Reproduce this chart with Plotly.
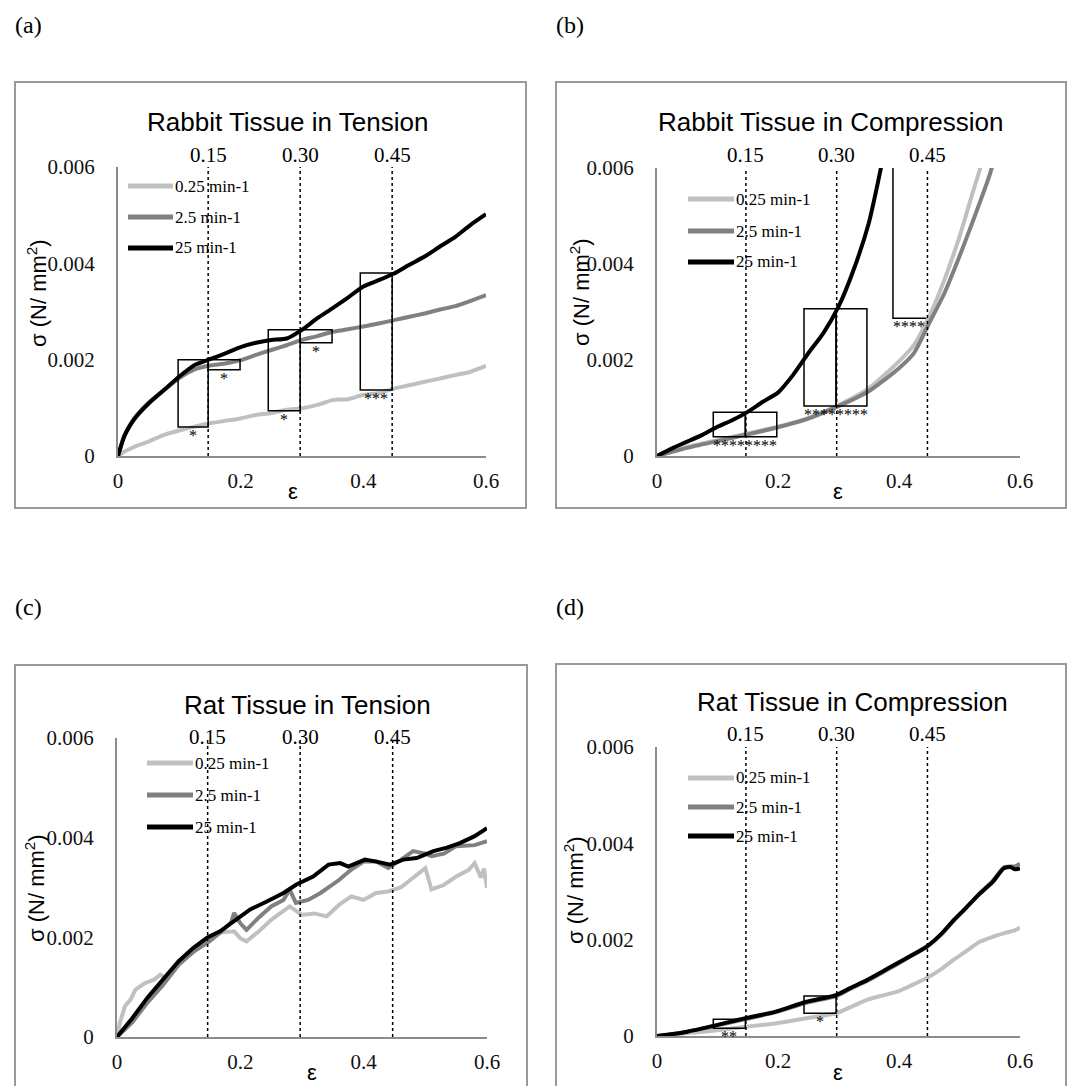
import plotly.graph_objects as go

W, H = 1067, 1086

# ---------------- data ----------------
series_names = ["0.25 min-1", "2.5 min-1", "25 min-1"]
x_ticks = [0, 0.2, 0.4, 0.6]
x_tick_text = ["0", "0.2", "0.4", "0.6"]
y_ticks = [0, 0.002, 0.004, 0.006]
y_tick_text = ["0", "0.002", "0.004", "0.006"]
strain_marks = [0.147, 0.297, 0.447]
strain_mark_text = ["0.15", "0.30", "0.45"]
panel_titles = ["Rabbit Tissue in Tension", "Rabbit Tissue in Compression",
                "Rat Tissue in Tension", "Rat Tissue in Compression"]
panel_letters = ["(a)", "(b)", "(c)", "(d)"]

# (a) Rabbit tension
a_x = [0, 0.01, 0.02, 0.03, 0.05, 0.075, 0.1, 0.125, 0.15, 0.175, 0.2, 0.225, 0.25, 0.275,
       0.3, 0.325, 0.35, 0.375, 0.4, 0.425, 0.45, 0.475, 0.5, 0.525, 0.55, 0.575, 0.6]
a_slow = [0, 0.00009, 0.00015, 0.00021, 0.0003, 0.00044, 0.00053, 0.00061, 0.00068, 0.00073,
          0.00078, 0.00085, 0.00089, 0.00096, 0.00099, 0.00106, 0.00116, 0.00118, 0.00127,
          0.00131, 0.0014, 0.00147, 0.00154, 0.00161, 0.00168, 0.00175, 0.00187]
a_mid = [0, 0.00042, 0.00066, 0.00084, 0.00111, 0.00137, 0.00162, 0.0018, 0.00188, 0.00192,
         0.00199, 0.0021, 0.0022, 0.0023, 0.00241, 0.00249, 0.00258, 0.00263, 0.00269,
         0.00275, 0.00282, 0.00289, 0.00296, 0.00304, 0.00311, 0.00322, 0.00334]
a_fast = [0, 0.0004, 0.00064, 0.00082, 0.00109, 0.00137, 0.00165, 0.00189, 0.00201, 0.00213,
          0.00226, 0.00235, 0.00241, 0.00244, 0.00262, 0.00286, 0.00307, 0.00329, 0.00352,
          0.00365, 0.00379, 0.00397, 0.00414, 0.00435, 0.00455, 0.0048, 0.00502]
a_boxes = [(0.098, 0.147, 0.0006, 0.002, "*"), (0.147, 0.199, 0.00179, 0.002, "*"),
           (0.245, 0.297, 0.00094, 0.00262, "*"), (0.297, 0.349, 0.00235, 0.00262, "*"),
           (0.395, 0.447, 0.00137, 0.0038, "***")]

# (b) Rabbit compression
b_x_slow = [0, 0.05, 0.1, 0.15, 0.2, 0.25, 0.3, 0.35, 0.4, 0.425, 0.45, 0.475, 0.5, 0.52, 0.535, 0.55]
b_slow = [0, 0.00019, 0.00033, 0.00047, 0.00061, 0.00079, 0.00106, 0.00141, 0.00197, 0.00232,
          0.00291, 0.00367, 0.00457, 0.00541, 0.00603, 0.0068]
b_x_mid = [0, 0.05, 0.1, 0.15, 0.2, 0.25, 0.3, 0.35, 0.4, 0.425, 0.45, 0.475, 0.5, 0.525, 0.55, 0.57]
b_mid = [0, 0.00017, 0.00031, 0.00045, 0.0006, 0.00078, 0.00104, 0.00135, 0.00183, 0.00215,
         0.00277, 0.00339, 0.00416, 0.00499, 0.00586, 0.0068]
b_x_fast = [0, 0.025, 0.05, 0.075, 0.1, 0.125, 0.15, 0.175, 0.2, 0.225, 0.25, 0.275, 0.3,
            0.325, 0.35, 0.365, 0.38]
b_fast = [0, 0.00016, 0.0003, 0.00044, 0.00061, 0.00075, 0.00092, 0.00113, 0.00132, 0.00169,
          0.00214, 0.00256, 0.00311, 0.00388, 0.00485, 0.00569, 0.0066]
b_boxes = [(0.093, 0.146, 0.0004, 0.00091, "****"), (0.146, 0.198, 0.0004, 0.00091, "****"),
           (0.243, 0.296, 0.00104, 0.00307, "****"), (0.296, 0.347, 0.00104, 0.00307, "****")]
b_open_box = (0.39, 0.4446, 0.00287, 0.006, "****")

# (c) Rat tension
c_x_slow = [0, 0.005, 0.013, 0.022, 0.03, 0.045, 0.06, 0.07, 0.08, 0.09, 0.1, 0.125, 0.15,
            0.17, 0.19, 0.2, 0.21, 0.23, 0.25, 0.27, 0.28, 0.3, 0.32, 0.34, 0.36, 0.38, 0.4,
            0.42, 0.44, 0.46, 0.48, 0.5, 0.51, 0.53, 0.55, 0.57, 0.58, 0.59, 0.595, 0.6]
c_slow = [0, 0.0003, 0.00062, 0.00075, 0.00095, 0.00108, 0.00115, 0.00125, 0.00118, 0.0013,
          0.00148, 0.00172, 0.00202, 0.0021, 0.00212, 0.00198, 0.00192, 0.00212, 0.00235,
          0.00252, 0.00262, 0.00245, 0.00248, 0.00242, 0.00265, 0.00282, 0.00275, 0.00289,
          0.00292, 0.003, 0.00319, 0.00339, 0.00296, 0.00305, 0.00322, 0.00335, 0.00349,
          0.0032, 0.00338, 0.00299]
c_x_mid = [0, 0.025, 0.05, 0.075, 0.1, 0.125, 0.15, 0.17, 0.185, 0.19, 0.2, 0.21, 0.23, 0.25,
           0.27, 0.28, 0.29, 0.31, 0.33, 0.36, 0.38, 0.4, 0.42, 0.44, 0.46, 0.48, 0.5, 0.51,
           0.53, 0.55, 0.58, 0.6]
c_mid = [0, 0.0003, 0.0007, 0.00105, 0.00145, 0.00172, 0.00192, 0.00212, 0.0023, 0.00249,
         0.00228, 0.00215, 0.0024, 0.00262, 0.00275, 0.00296, 0.00269, 0.00275, 0.00289,
         0.00315, 0.00336, 0.00352, 0.00352, 0.00339, 0.00355, 0.00373, 0.00368, 0.00363,
         0.00368, 0.00383, 0.00385, 0.00393]
c_x_fast = [0, 0.025, 0.05, 0.075, 0.1, 0.124, 0.146, 0.167, 0.189, 0.216, 0.243, 0.27, 0.291,
            0.318, 0.343, 0.362, 0.375, 0.402, 0.421, 0.443, 0.464, 0.486, 0.513, 0.535,
            0.556, 0.58, 0.6]
c_fast = [0, 0.00038, 0.0008, 0.00115, 0.00152, 0.00179, 0.00199, 0.00212, 0.00232, 0.00256,
          0.00272, 0.00289, 0.00306, 0.00322, 0.00346, 0.00349, 0.00342, 0.00356, 0.00352,
          0.00346, 0.00356, 0.00359, 0.00373, 0.0038, 0.00389, 0.00403, 0.00419]
c_boxes = []

# (d) Rat compression
d_x = [0, 0.02, 0.05, 0.1, 0.146, 0.195, 0.247, 0.296, 0.32, 0.347, 0.37, 0.397, 0.42, 0.445,
       0.47, 0.49, 0.51, 0.534, 0.555, 0.573, 0.584, 0.592, 0.6]
d_slow = [0, 0.00002, 0.00006, 0.00012, 0.00019, 0.00026, 0.00037, 0.00047, 0.0006, 0.00075,
          0.00083, 0.00092, 0.00105, 0.0012, 0.00139, 0.00158, 0.00175, 0.00196, 0.00206,
          0.00213, 0.00217, 0.0022, 0.00225]
d_mid = [0, 0.00003, 0.00009, 0.00022, 0.00035, 0.00049, 0.00069, 0.00083, 0.00098, 0.00114,
         0.0013, 0.00149, 0.00166, 0.00184, 0.00211, 0.00239, 0.00265, 0.00297, 0.00322,
         0.0035, 0.00352, 0.00352, 0.00358]
d_fast = [0, 0.00003, 0.00009, 0.00023, 0.00037, 0.0005, 0.00071, 0.00085, 0.001, 0.00116,
          0.00132, 0.00151, 0.00167, 0.00185, 0.00212, 0.0024, 0.00265, 0.00296, 0.0032,
          0.00348, 0.00351, 0.00346, 0.00348]
d_boxes = [(0.093, 0.146, 0.00016, 0.00035, "**"), (0.243, 0.296, 0.00047, 0.00083, "*")]

# ---------------- styling ----------------
COLORS = ["#c0c0c0", "#808080", "#000000"]
AXIS_GRAY = "#8c8c8c"
FRAME_GRAY = "#9a9a9a"
SERIF = "Liberation Serif"
SANS = "Liberation Sans"


def X(p):
    return p / W


def Y(p):
    return 1 - p / H


panels = [
    dict(series=[(a_x, a_slow), (a_x, a_mid), (a_x, a_fast)], shape="spline", boxes=a_boxes,
         plot=(118, 486, 167, 456), frame=(15, 526, 82, 508), letter=(28, 25),
         title=(287, 122), marks_y=155, legend=(128, 173, [186, 217, 248]),
         ytitle=(37, 293), eps=(293, 492)),
    dict(series=[(b_x_slow, b_slow), (b_x_mid, b_mid), (b_x_fast, b_fast)], shape="spline",
         boxes=b_boxes, plot=(657, 1020, 168, 456), frame=(556, 1066, 82, 508),
         letter=(570, 25), title=(830, 122), marks_y=155,
         legend=(688, 734, [199, 231, 262]), ytitle=(580, 292), eps=(838, 491)),
    dict(series=[(c_x_slow, c_slow), (c_x_mid, c_mid), (c_x_fast, c_fast)], shape="linear",
         boxes=c_boxes, plot=(117, 487, 738, 1037), frame=(15, 527, 665, 1100),
         letter=(28, 607), title=(307, 705), marks_y=737,
         legend=(147, 193, [763, 795, 827]), ytitle=(35, 888), eps=(312, 1072)),
    dict(series=[(d_x, d_slow), (d_x, d_mid), (d_x, d_fast)], shape="spline", boxes=d_boxes,
         plot=(657, 1020, 747, 1036), frame=(556, 1066, 664, 1100), letter=(570, 607),
         title=(852, 702), marks_y=734, legend=(688, 734, [778, 807, 836]),
         ytitle=(574, 890), eps=(838, 1072)),
]

fig = go.Figure()
shapes = []
annotations = []
layout_axes = {}


def label(x, y, text, size, family, xref="paper", yref="paper", xanchor="center",
          yanchor="middle", **kw):
    return dict(x=x, y=y, xref=xref, yref=yref, text=text, showarrow=False,
                xanchor=xanchor, yanchor=yanchor, borderpad=0,
                font=dict(family=family, size=size, color="black"), **kw)


for i, p in enumerate(panels):
    k = "" if i == 0 else str(i + 1)
    xr, yr = "x" + k, "y" + k
    x0p, x1p, ytp, ybp = p["plot"]
    layout_axes["xaxis" + k] = dict(
        domain=[X(x0p), X(x1p)], range=[0, 0.6], anchor=yr, tickvals=x_ticks,
        ticktext=x_tick_text, showline=True, linecolor=AXIS_GRAY, linewidth=2,
        showgrid=False, zeroline=False, ticks="outside", ticklen=5, automargin=False,
        tickcolor="rgba(0,0,0,0)", tickfont=dict(family=SERIF, size=21, color="#111"),
        fixedrange=True)
    layout_axes["yaxis" + k] = dict(
        domain=[Y(ybp), Y(ytp)], range=[0, 0.006], anchor=xr, tickvals=y_ticks,
        ticktext=y_tick_text, showline=True, linecolor=AXIS_GRAY, linewidth=2,
        showgrid=False, zeroline=False, ticks="outside", ticklen=17, automargin=False,
        tickcolor="rgba(0,0,0,0)", tickfont=dict(family=SERIF, size=21, color="#111"),
        fixedrange=True)

    for (sx, sy), col, name in zip(p["series"], COLORS, series_names):
        fig.add_trace(go.Scatter(
            x=sx, y=sy, mode="lines", name=name, showlegend=False, xaxis=xr, yaxis=yr,
            line=dict(color=col, width=4, shape=p["shape"], smoothing=0.6)))

    # frame
    fx0, fx1, fy0, fy1 = p["frame"]
    shapes.append(dict(type="rect", xref="paper", yref="paper", x0=X(fx0), x1=X(fx1),
                       y0=Y(fy1), y1=Y(fy0), line=dict(color=FRAME_GRAY, width=2),
                       layer="below"))
    # dotted strain markers
    for m, mt in zip(strain_marks, strain_mark_text):
        shapes.append(dict(type="line", xref=xr, yref=yr, x0=m, x1=m, y0=0, y1=0.006,
                           line=dict(color="black", width=1.5, dash="dot")))
        annotations.append(label(m, Y(p["marks_y"]), mt, 21, SERIF, xref=xr))
    # significance boxes
    for bx0, bx1, by0, by1, lab in p["boxes"]:
        shapes.append(dict(type="rect", xref=xr, yref=yr, x0=bx0, x1=bx1, y0=by0, y1=by1,
                           line=dict(color="black", width=1.5)))
        annotations.append(label((bx0 + bx1) / 2, by0, lab, 16, SERIF, xref=xr, yref=yr,
                                 yanchor="top", yshift=1))
    # title / letter / axis titles
    annotations.append(label(X(p["title"][0]), Y(p["title"][1]), panel_titles[i], 26, SANS))
    annotations.append(label(X(p["letter"][0]), Y(p["letter"][1]), panel_letters[i], 24, SERIF))
    annotations.append(label(X(p["ytitle"][0]), Y(p["ytitle"][1]), "σ (N/ mm<sup>2</sup>)",
                             22, SANS, textangle=-90))
    annotations.append(label(X(p["eps"][0]), Y(p["eps"][1]), "ε", 22, SANS))
    # legend
    lx0, lx1, lys = p["legend"]
    for col, name, ly in zip(COLORS, series_names, lys):
        shapes.append(dict(type="line", xref="paper", yref="paper", x0=X(lx0), x1=X(lx1),
                           y0=Y(ly), y1=Y(ly), line=dict(color=col, width=5)))
        annotations.append(label(X(lx1 + 1), Y(ly), name, 17, SERIF, xanchor="left"))

# open-topped box in (b)
ob = b_open_box
shapes.append(dict(type="path", xref="x2", yref="y2",
                   path=f"M {ob[0]},{ob[3]} L {ob[0]},{ob[2]} L {ob[1]},{ob[2]}",
                   line=dict(color="black", width=1.5)))
annotations.append(label((ob[0] + ob[1]) / 2, ob[2], ob[4], 16, SERIF, xref="x2", yref="y2",
                         yanchor="top", yshift=1))

fig.update_layout(
    width=W, height=H, margin=dict(l=0, r=0, t=0, b=0, pad=0, autoexpand=False),
    paper_bgcolor="white", plot_bgcolor="white", showlegend=False,
    shapes=shapes, annotations=annotations, **layout_axes)

fig.write_html("out.html", config={"displayModeBar": False})
